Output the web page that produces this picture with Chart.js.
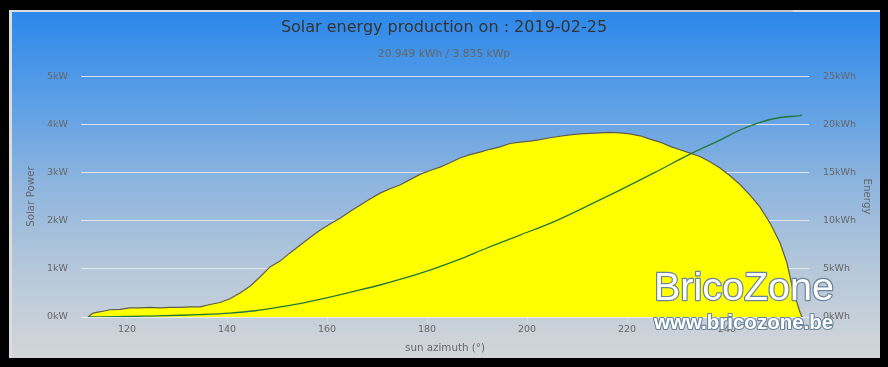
<!DOCTYPE html>
<html>
<head>
<meta charset="utf-8">
<script src="https://cdn.jsdelivr.net/npm/chart.js@4.4.1/dist/chart.umd.min.js"></script>
<style>
  html, body { margin: 0; padding: 0; background: #000; width: 888px; height: 367px; overflow: hidden; }
  #panel { position: absolute; left: 9px; top: 10px; width: 868px; height: 346px;
    border-left: 3px solid #dcdcdc; border-top: 2px solid #dcdcdc;
    background: linear-gradient(to bottom, #2c88ea 0%, #5a9ee6 25%, #8fb5de 50%, #b6c8da 75%, #d3d6d9 100%); }
  #strip { position: absolute; left: 532px; top: 10px; width: 261px; height: 2px; background: #c4c4c4; }
  #c { position: absolute; left: 0; top: 0; }
</style>
</head>
<body>
<div id="panel"></div>
<div id="strip"></div>
<canvas id="c" width="888" height="367"></canvas>
<script>
// ---- data ----
const titleText = 'Solar energy production on : 2019-02-25';
const subtitleText = '20.949 kWh / 3.835 kWp';

const powerAz = [112.2, 113.2, 114.2, 115.2, 116.6, 118.6, 120.6, 122.6, 124.6, 126.6, 128.6, 130.6, 132.6, 134.6, 136.6, 138.6,
  140.6, 142.6, 144.6, 146.6, 148.6, 150.6, 152.6, 154.6, 156.6, 158.6, 160.6, 162.6, 164.6, 166.6, 168.6, 170.6,
  172.6, 174.6, 176.6, 178.6, 180.6, 182.6, 184.6, 186.6, 188.6, 190.6, 192.6, 194.6, 196.6, 198.6, 200.6, 202.6,
  204.6, 206.6, 208.6, 210.6, 212.6, 214.6, 216.6, 218.6, 220.6, 222.6, 224.6, 226.6, 228.6, 230.6, 232.6, 234.6,
  236.6, 238.6, 240.6, 242.6, 244.6, 246.6, 248.6, 250.6, 252.0, 253.2, 254.6, 255.0];
const powerKW = [0, 0.08, 0.10, 0.12, 0.15, 0.16, 0.19, 0.19, 0.20, 0.19, 0.20, 0.20, 0.21, 0.21, 0.26, 0.30,
  0.38, 0.50, 0.64, 0.83, 1.04, 1.16, 1.33, 1.49, 1.65, 1.80, 1.93, 2.05, 2.19, 2.32, 2.45, 2.57,
  2.66, 2.74, 2.85, 2.96, 3.04, 3.11, 3.20, 3.30, 3.37, 3.42, 3.48, 3.53, 3.60, 3.63, 3.65, 3.68,
  3.72, 3.75, 3.78, 3.80, 3.81, 3.82, 3.83, 3.82, 3.80, 3.76, 3.69, 3.63, 3.54, 3.47, 3.40, 3.33,
  3.22, 3.09, 2.93, 2.75, 2.53, 2.28, 1.95, 1.54, 1.12, 0.56, 0.10, 0];

const energyAz = [112.2, 120.6, 124.6, 130.6, 134.6, 140.6, 145.6, 150.6, 155.6, 160.6, 165.6, 170.6, 175.6, 180.6,
  186.6, 192.0, 198.6, 205.2, 212.0, 218.6, 225.6, 232.6, 238.6, 242.6, 246.6, 250.6, 254.6, 255.0];
const energyKWh = [0, 0.05, 0.10, 0.18, 0.25, 0.41, 0.65, 1.04, 1.50, 2.07, 2.68, 3.32, 4.05, 4.87,
  6.00, 7.16, 8.50, 9.85, 11.50, 13.17, 15.00, 16.90, 18.35, 19.40, 20.20, 20.70, 20.90, 20.949];

const xTicks = [120, 140, 160, 180, 200, 220, 240];
const powerTicks = [0, 1, 2, 3, 4, 5];
const energyTicks = [0, 5, 10, 15, 20, 25];

// ---- chart ----
const FONT = 'DejaVu Sans';
const gridColor = 'rgba(238,238,238,0.85)';

const watermark = {
  id: 'watermark',
  afterDraw(chart) {
    const ctx = chart.ctx;
    ctx.save();
    ctx.textBaseline = 'alphabetic';
    ctx.textAlign = 'left';
    ctx.lineJoin = 'round';
    ctx.strokeStyle = '#6a849c';
    ctx.fillStyle = '#ffffff';
    ctx.font = '39.5px "Liberation Sans"';
    ctx.lineWidth = 2.4;
    ctx.strokeText('BricoZone', 654, 299.5);
    ctx.fillText('BricoZone', 654, 299.5);
    ctx.font = 'bold 20.5px "Liberation Sans"';
    ctx.lineWidth = 2.2;
    ctx.strokeText('www.bricozone.be', 654, 328.7);
    ctx.fillText('www.bricozone.be', 654, 328.7);
    ctx.restore();
  }
};

new Chart(document.getElementById('c'), {
  type: 'scatter',
  data: {
    datasets: [
      {
        label: 'Energy',
        type: 'line',
        data: energyAz.map((a, i) => ({ x: a, y: energyKWh[i] })),
        yAxisID: 'y1',
        borderColor: '#22783a',
        borderWidth: 1.3,
        pointRadius: 0,
        fill: false,
        cubicInterpolationMode: 'monotone',
        order: 0
      },
      {
        label: 'Solar Power',
        type: 'line',
        data: powerAz.map((a, i) => ({ x: a, y: powerKW[i] })),
        yAxisID: 'y',
        borderColor: '#5c5c50',
        borderWidth: 1.2,
        backgroundColor: '#ffff00',
        pointRadius: 0,
        fill: 'origin',
        tension: 0,
        order: 1
      }
    ]
  },
  options: {
    responsive: false,
    animation: false,
    devicePixelRatio: 1,
    layout: { padding: 0 },
    plugins: {
      legend: { display: false },
      tooltip: { enabled: false },
      title: {
        display: true, text: titleText, color: '#333333',
        font: { family: FONT, size: 16, weight: 'normal', lineHeight: 1.2 },
        padding: { top: 18.4, bottom: 0 }
      },
      subtitle: {
        display: true, text: subtitleText, color: '#666666',
        font: { family: FONT, size: 10.7, weight: 'normal', lineHeight: 1.2 },
        padding: { top: 10, bottom: 15.6 }
      }
    },
    scales: {
      x: {
        type: 'linear', position: 'bottom', min: 110.8, max: 256.4,
        afterBuildTicks: s => { s.ticks = xTicks.map(v => ({ value: v })); },
        afterFit: s => { s.height = 50; },
        border: { display: false },
        grid: { drawOnChartArea: false, drawTicks: true, tickLength: 7, color: '#d0d9e4' },
        ticks: { color: '#666666', padding: 0, maxRotation: 0, font: { family: FONT, size: 9.5 } },
        title: { display: true, text: 'sun azimuth (°)', color: '#666666',
          font: { family: FONT, size: 10.3, lineHeight: 1.2 }, padding: { top: 0, bottom: 12.8 } }
      },
      y: {
        type: 'linear', position: 'left', min: 0, max: 5,
        afterBuildTicks: s => { s.ticks = powerTicks.map(v => ({ value: v })); },
        afterFit: s => { s.width = 81; },
        border: { display: false },
        grid: { color: gridColor, lineWidth: 1, drawTicks: false },
        ticks: { color: '#666666', padding: 13, font: { family: FONT, size: 9.5 }, callback: v => v + 'kW' },
        title: { display: true, text: 'Solar Power', color: '#666666',
          font: { family: FONT, size: 10.3, lineHeight: 1.2 }, padding: { top: 24.8, bottom: 0 } }
      },
      y1: {
        type: 'linear', position: 'right', min: 0, max: 25,
        afterBuildTicks: s => { s.ticks = energyTicks.map(v => ({ value: v })); },
        afterFit: s => { s.width = 79; },
        border: { display: false },
        grid: { drawOnChartArea: false, drawTicks: false },
        ticks: { color: '#666666', padding: 14, font: { family: FONT, size: 9.5 }, callback: v => v + 'kWh' },
        title: { display: true, text: 'Energy', color: '#666666',
          font: { family: FONT, size: 10.3, lineHeight: 1.2 }, padding: { top: 14.8, bottom: 0 } }
      }
    }
  },
  plugins: [watermark]
});
</script>
</body>
</html>
